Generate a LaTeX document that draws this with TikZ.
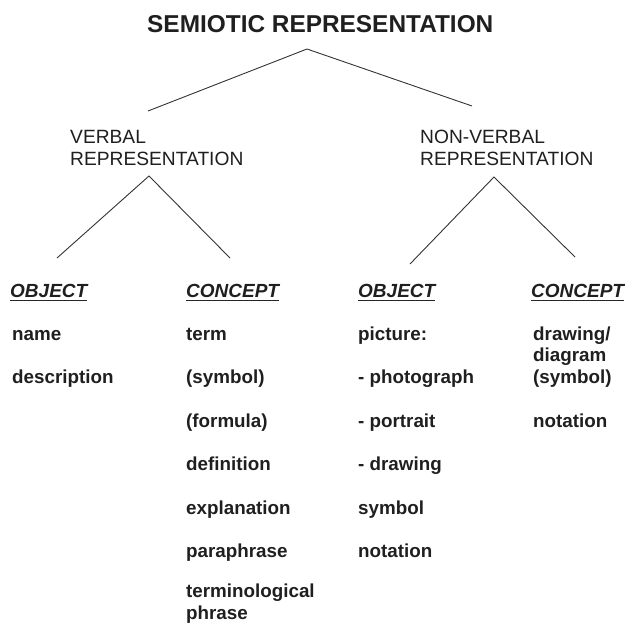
\documentclass[tikz,border=0pt]{standalone}
\usepackage{fontspec}
\setmainfont{Liberation Sans}
\usetikzlibrary{calc}
\tikzset{
  sr title/.style={
    anchor=base west, inner sep=0pt, text=black!88,
    font=\fontsize{24.4}{27}\selectfont\bfseries
  },
  sr branch/.style={
    anchor=base west, inner sep=0pt, align=left, text=black!88,
    font=\fontsize{19.2}{22}\selectfont
  },
  sr head/.style={
    anchor=base west, inner sep=0pt, text=black!88,
    font=\fontsize{19}{22}\selectfont\bfseries\itshape
  },
  sr item/.style={
    anchor=base west, inner sep=0pt, align=left, text=black!88,
    font=\fontsize{18.8}{21.5}\selectfont\bfseries
  },
  sr line/.style={
    line width=0.9pt, draw=black!80
  },
  sr underline/.style={
    line width=1.8pt, draw=black!85
  }
}

\begin{document}
\begin{tikzpicture}[x=1pt, y=-1pt]
  \useasboundingbox (0,0) rectangle (627,624);
  % Title and the two kinds of representation (base = last line)
  \node (title) [sr title] at (147,32) {SEMIOTIC REPRESENTATION};
  \node (verbal) [sr branch] at (70,165) {VERBAL\\REPRESENTATION};
  \node (nonverbal) [sr branch] at (420,165) {NON-VERBAL\\REPRESENTATION};

  % Column headings
  \node (objL) [sr head] at (10,297) {OBJECT};
  \node (conL) [sr head] at (186,297) {CONCEPT};
  \node (objR) [sr head] at (358,297) {OBJECT};
  \node (conR) [sr head] at (531,297) {CONCEPT};

  % Verbal: object
  \node (name) [sr item] at (12,340) {name};
  \node (descr) [sr item] at (12,383.5) {description};
  % Verbal: concept
  \node (term) [sr item] at (186,340) {term};
  \node (symL) [sr item] at (186,383.5) {(symbol)};
  \node (formula) [sr item] at (186,427) {(formula)};
  \node (defin) [sr item] at (186,470.5) {definition};
  \node (expl) [sr item] at (186,514) {explanation};
  \node (para) [sr item] at (186,557.5) {paraphrase};
  \node (termphr) [sr item] at (186,619) {terminological\\phrase};
  % Non-verbal: object
  \node (pict) [sr item] at (358,340) {picture:};
  \node (photo) [sr item] at (358,383.5) {- photograph};
  \node (portr) [sr item] at (358,427) {- portrait};
  \node (drawO) [sr item] at (358,470.5) {- drawing};
  \node (symR) [sr item] at (358,514) {symbol};
  \node (notO) [sr item] at (358,557.5) {notation};
  % Non-verbal: concept
  \node (diag) [sr item] at (533,383) {drawing/\\diagram\\(symbol)};
  \node (notC) [sr item] at (533,427) {notation};

  % branch points
  \coordinate (top) at (307,49);
  \coordinate (topL) at (148,111);
  \coordinate (topR) at (472,106);
  \coordinate (vb) at (149,176);
  \coordinate (vbL) at (57,258);
  \coordinate (vbR) at (230,258);
  \coordinate (nv) at (494,177);
  \coordinate (nvL) at (410,264);
  \coordinate (nvR) at (575,257);

  \draw [sr line] (topL) -- (top) -- (topR);
  \draw [sr line] (vbL) -- (vb) -- (vbR);
  \draw [sr line] (nvL) -- (nv) -- (nvR);

  % underlines of the headings
  \foreach \h in {objL, conL, objR, conR}
    \draw [sr underline] ($(\h.base west)+(0,3.5)$) -- ($(\h.base east)+(0,3.5)$);
\end{tikzpicture}
\end{document}
